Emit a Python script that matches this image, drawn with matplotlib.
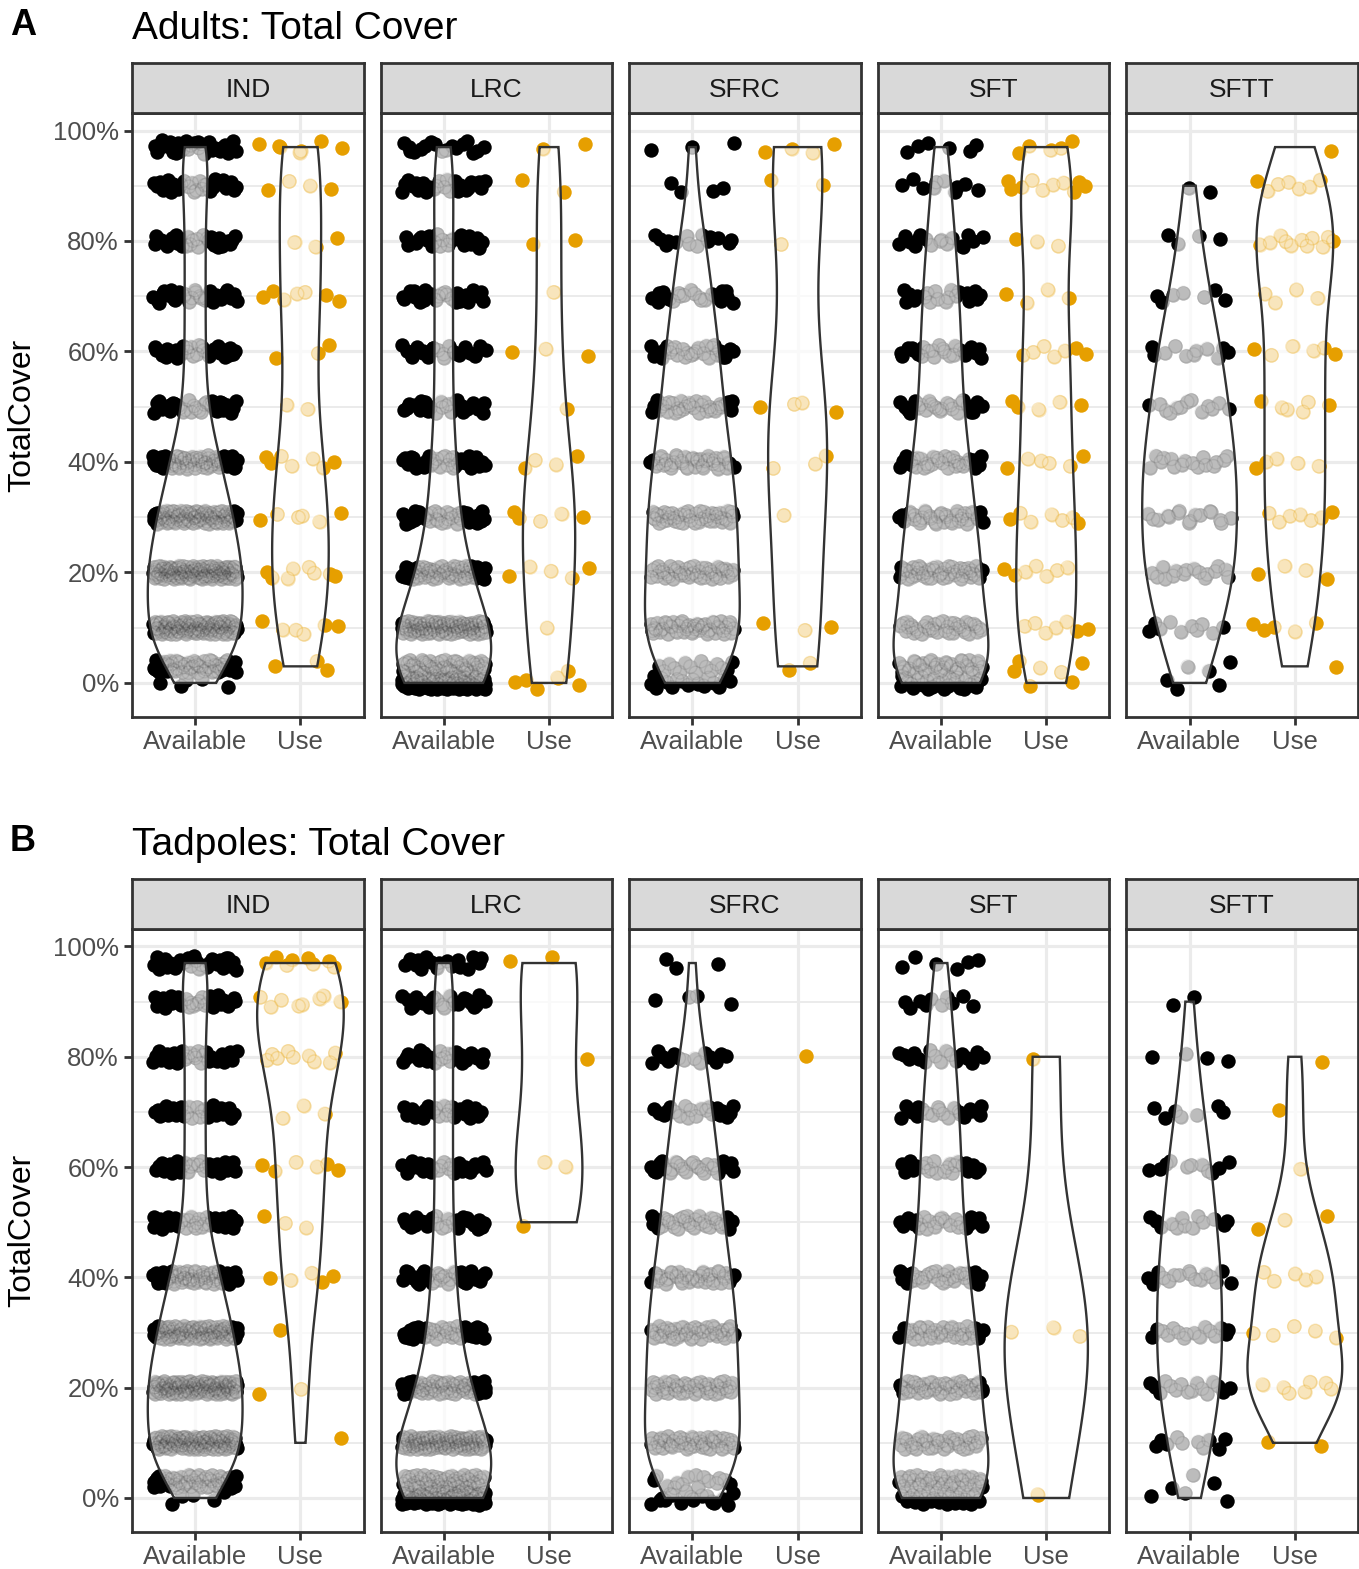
"""Habitat use vs availability: total cover violins for adults and tadpoles."""

import numpy as np
import matplotlib.pyplot as plt
from matplotlib.patches import Polygon

plt.rcParams['font.family'] = ['Liberation Sans', 'DejaVu Sans']

sites = ["IND", "LRC", "SFRC", "SFT", "SFTT"]
groups = ["Available", "Use"]
cover_levels = [0, 3, 10, 20, 30, 40, 50, 60, 70, 80, 90, 97]
y_ticks = [0, 20, 40, 60, 80, 100]
y_tick_labels = ["0%", "20%", "40%", "60%", "80%", "100%"]

# number of plots at each cover level (same order as cover_levels)
avail_ind = [5, 57, 131, 141, 110, 73, 35, 30, 30, 30, 30, 31]
avail_lrc = [92, 60, 120, 74, 43, 35, 25, 25, 25, 25, 25, 17]
avail_sfrc = [17, 15, 50, 48, 47, 41, 33, 28, 21, 14, 4, 3]
avail_sft = [30, 40, 40, 50, 39, 34, 25, 24, 21, 17, 10, 6]
avail_sftt = [3, 3, 10, 16, 16, 16, 13, 11, 7, 4, 2, 0]

adult_use_ind = [0, 3, 6, 8, 6, 7, 2, 3, 7, 3, 4, 7]
adult_use_lrc = [5, 1, 1, 5, 5, 4, 1, 3, 1, 2, 2, 2]
adult_use_sfrc = [0, 2, 3, 0, 1, 3, 4, 0, 0, 1, 2, 4]
adult_use_sft = [2, 5, 7, 7, 7, 6, 5, 7, 4, 3, 10, 5]
adult_use_sftt = [0, 1, 5, 4, 7, 5, 6, 6, 4, 11, 7, 1]

tad_use_ind = [0, 0, 1, 2, 1, 5, 3, 6, 3, 9, 8, 8]
tad_use_lrc = [0, 0, 0, 0, 0, 0, 1, 2, 0, 1, 0, 2]
tad_use_sfrc = [0, 0, 0, 0, 0, 0, 0, 0, 0, 1, 0, 0]
tad_use_sft = [1, 0, 0, 0, 3, 0, 0, 0, 0, 1, 0, 0]
tad_use_sftt = [0, 0, 2, 7, 5, 5, 3, 1, 1, 1, 0, 0]

available = [avail_ind, avail_lrc, avail_sfrc, avail_sft, avail_sftt]
adult_use = [adult_use_ind, adult_use_lrc, adult_use_sfrc, adult_use_sft, adult_use_sftt]
tad_use = [tad_use_ind, tad_use_lrc, tad_use_sfrc, tad_use_sft, tad_use_sftt]

COLORS = {"Available": "#000000", "Use": "#E69F00"}
RING_ALPHA = {"Available": 0.08, "Use": 0.24}

W, H = 1359, 1569


def _fx(px):
    return px / W


def _fy(py):
    return 1 - py / H


def _bw_nrd0(x):
    hi = np.std(x, ddof=1)
    q75, q25 = np.percentile(x, [75, 25])
    lo = min(hi, (q75 - q25) / 1.34)
    if lo == 0:
        lo = hi or abs(x[0]) or 1
    return 0.9 * lo * len(x) ** -0.2


def _density(x):
    y = np.linspace(x.min(), x.max(), 512)
    bw = _bw_nrd0(x)
    z = (y[:, None] - x[None, :]) / bw
    d = np.exp(-0.5 * z ** 2).sum(axis=1) / (len(x) * bw * np.sqrt(2 * np.pi))
    return y, d


def _halton(k, base):
    k = k.copy()
    out = np.zeros(len(k))
    f = 1.0
    while np.any(k > 0):
        f /= base
        out += f * (k % base)
        k //= base
    return out


def _jitter(n, seed):
    # deterministic stand-in for geom_jitter(width = 0.4, height ~ 1.2)
    k = np.arange(n) + seed + 1
    dx = (_halton(k, 2) - 0.5) * 0.8
    dy = (_halton(k, 3) - 0.5) * 2.4
    return dx, dy


def draw_facet(ax, avail_counts, use_counts, seed):
    values = {
        "Available": np.repeat(cover_levels, avail_counts).astype(float),
        "Use": np.repeat(cover_levels, use_counts).astype(float),
    }

    pts = {}
    for pos, g in enumerate(groups, start=1):
        v = values[g]
        dx, dy = _jitter(len(v), seed + 37 * pos)
        pts[g] = (pos + dx, v + dy)
        ax.scatter(pos + dx, v + dy, s=108, c=COLORS[g], lw=0, zorder=2)

    dens = {g: _density(values[g]) for g in groups if len(values[g]) >= 2}
    if not dens:
        return
    dmax = max(d.max() for _, d in dens.values())

    for pos, g in enumerate(groups, start=1):
        if g not in dens:
            continue
        yy, d = dens[g]
        half = d / dmax * 0.45
        xs = np.concatenate([pos - half, (pos + half)[::-1]])
        ys = np.concatenate([yy, yy[::-1]])
        fill = Polygon(np.column_stack([xs, ys]), closed=True,
                       facecolor="white", edgecolor="none", alpha=0.74, zorder=3)
        ax.add_patch(fill)
        rings = ax.scatter(*pts[g], s=92, facecolors="none", edgecolors=COLORS[g],
                           linewidths=1.0, alpha=RING_ALPHA[g], zorder=4)
        rings.set_clip_path(fill)
        outline = Polygon(np.column_stack([xs, ys]), closed=True,
                          facecolor="none", edgecolor="#333333", lw=1.7, zorder=5)
        ax.add_patch(outline)


fig = plt.figure(figsize=(W / 100, H / 100), dpi=100)

panel_w = 231.6
panel_gap = 17
rows = [
    ("A", "Adults: Total Cover", adult_use, 63, 113, 717),
    ("B", "Tadpoles: Total Cover", tad_use, 879, 929, 1532),
]

for r, (tag, title, use_counts, strip_top, top, bottom) in enumerate(rows):
    for i, site in enumerate(sites):
        x0 = 132 + i * (panel_w + panel_gap)
        ax = fig.add_axes([_fx(x0), _fy(bottom), panel_w / W, (bottom - top) / H])
        ax.set_xlim(0.4, 2.6)
        ax.set_ylim(-6.17, 103.17)

        ax.set_yticks(y_ticks)
        ax.set_yticklabels(y_tick_labels)
        ax.set_yticks([10, 30, 50, 70, 90], minor=True)
        ax.set_xticks([1, 2])
        ax.set_xticklabels(groups)
        ax.grid(which="major", color="#EBEBEB", lw=2.3)
        ax.grid(which="minor", axis="y", color="#EBEBEB", lw=1.4)
        ax.set_axisbelow(True)
        ax.tick_params(which="major", length=5.5, width=2, color="#333333",
                       labelsize=18.5, labelcolor="#4D4D4D", pad=4)
        ax.tick_params(which="minor", length=0)
        if i > 0:
            ax.tick_params(axis="y", left=False, labelleft=False)
        for sp in ax.spines.values():
            sp.set_color("#333333")
            sp.set_linewidth(2)

        draw_facet(ax, available[i], use_counts[i], seed=13 * i + 500 * r)

        sax = fig.add_axes([_fx(x0), _fy(top), panel_w / W, (top - strip_top) / H])
        sax.set_facecolor("#D9D9D9")
        sax.set_xticks([])
        sax.set_yticks([])
        for sp in sax.spines.values():
            sp.set_color("#333333")
            sp.set_linewidth(2)
        sax.text(0.5, 0.46, site, ha="center", va="center", fontsize=19,
                 color="#1A1A1A", transform=sax.transAxes)

    fig.text(_fx(10), _fy(strip_top - 28), tag, fontsize=26, fontweight="bold",
             ha="left", va="baseline")
    fig.text(_fx(132), _fy(strip_top - 24), title, fontsize=28,
             ha="left", va="baseline")
    fig.text(_fx(22), _fy((top + bottom) / 2), "TotalCover", fontsize=23,
             rotation=90, ha="center", va="center")

fig.savefig("out.png", dpi=100)
plt.close(fig)
